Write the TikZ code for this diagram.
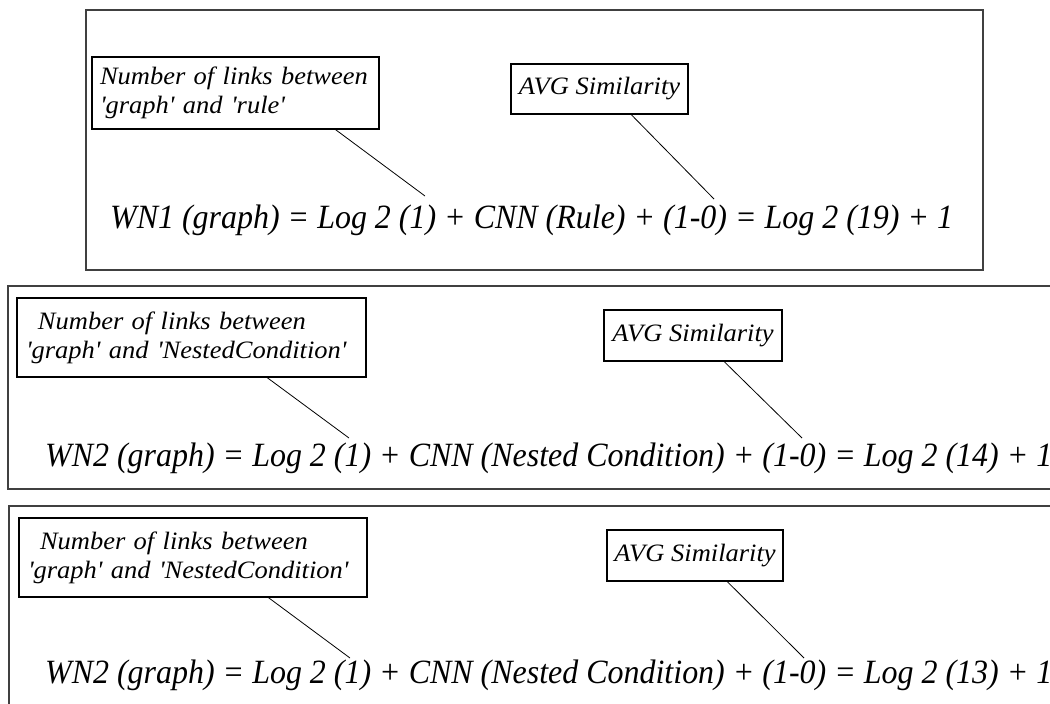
\documentclass[tikz,border=0pt]{standalone}
\usepackage{fontspec}
\setmainfont{Liberation Serif}
\newfontfamily\notefont[FakeStretch=1.06]{Liberation Serif}
\newfontfamily\sumfont[FakeStretch=0.94]{Liberation Serif}
\usetikzlibrary{calc}
\tikzset{
    frame/.style={draw=black!75, line width=2pt},
    notebox/.style={draw, line width=1.2pt, inner sep=0pt, align=left,
        font=\notefont\itshape\fontsize{25}{29}\selectfont},
    sumline/.style={anchor=base west, inner sep=0pt,
        font=\sumfont\itshape\fontsize{34}{38}\selectfont},
    pointer/.style={line width=0.8pt}}

\begin{document}
\begin{tikzpicture}[x=1pt,y=-1pt]
\useasboundingbox (0,0) rectangle (1050,704);
\clip (0,0) rectangle (1050,704);

% first weight: graph vs rule
\draw[frame] (86,10) rectangle (983,270);
\node[notebox, minimum width=287, minimum height=72, text width=271] (linksA) at (235.5,93)
    {Number of links between\\'graph' and 'rule'};
\node[notebox, minimum width=177, minimum height=50] (avgA) at (599.5,89)
    {AVG Similarity};
\node[sumline] (wnA) at (110,228)
    {WN1 (graph) = Log 2 (1) + CNN (Rule) + (1-0) = Log 2 (19) + 1};
\coordinate (tipA1) at (425,196);
\coordinate (tipA2) at (714,199);
\draw[pointer] ($(linksA.south west)!0.847!(linksA.south east)$) -- (tipA1);
\draw[pointer] ($(avgA.south west)!0.678!(avgA.south east)$) -- (tipA2);

% second weight: graph vs NestedCondition
\draw[frame] (8,286) rectangle (1070,489);
\node[notebox, minimum width=349, minimum height=79, text width=331] (linksB) at (191.5,337.5)
    {\hspace*{12pt}Number of links between\\'graph' and 'NestedCondition'};
\node[notebox, minimum width=178, minimum height=51] (avgB) at (693,335.5)
    {AVG Similarity};
\node[sumline] (wnB) at (45,466)
    {WN2 (graph) = Log 2 (1) + CNN (Nested Condition) + (1-0) = Log 2 (14) + 1};
\coordinate (tipB1) at (349,438);
\coordinate (tipB2) at (802,438);
\draw[pointer] ($(linksB.south west)!0.716!(linksB.south east)$) -- (tipB1);
\draw[pointer] ($(avgB.south west)!0.674!(avgB.south east)$) -- (tipB2);

% third weight
\draw[frame] (9,506) rectangle (1070,730);
\node[notebox, minimum width=348, minimum height=79, text width=330] (linksC) at (193,557.5)
    {\hspace*{12pt}Number of links between\\'graph' and 'NestedCondition'};
\node[notebox, minimum width=176, minimum height=51] (avgC) at (695,555.5)
    {AVG Similarity};
\node[sumline] (wnC) at (45,683)
    {WN2 (graph) = Log 2 (1) + CNN (Nested Condition) + (1-0) = Log 2 (13) + 1};
\coordinate (tipC1) at (350,658);
\coordinate (tipC2) at (804,658);
\draw[pointer] ($(linksC.south west)!0.716!(linksC.south east)$) -- (tipC1);
\draw[pointer] ($(avgC.south west)!0.682!(avgC.south east)$) -- (tipC2);
\end{tikzpicture}
\end{document}
